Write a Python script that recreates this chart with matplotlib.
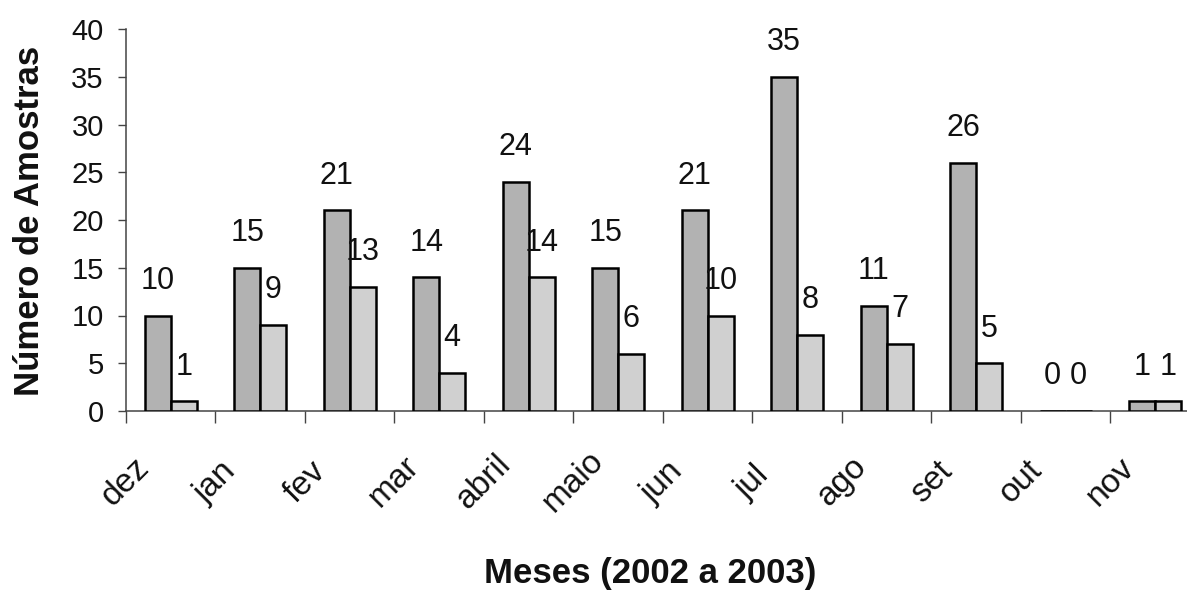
import matplotlib
matplotlib.use("Agg")
import matplotlib.pyplot as plt
import numpy as np

months = ["dez", "jan", "fev", "mar", "abril", "maio", "jun", "jul", "ago", "set", "out", "nov"]
series_a = [10, 15, 21, 14, 24, 15, 21, 35, 11, 26, 0, 1]
series_b = [1, 9, 13, 4, 14, 6, 10, 8, 7, 5, 0, 1]
y_ticks = [0, 5, 10, 15, 20, 25, 30, 35, 40]

plt.rcParams['font.family'] = ['Liberation Sans', 'DejaVu Sans']

W, H = 1187, 594
fig = plt.figure(figsize=(W / 100, H / 100), dpi=100)
ax = fig.add_axes([126 / W, (594 - 411) / H, 1074 / W, (411 - 29) / H])

x = np.arange(len(months))
bw = 0.29
ax.bar(x - bw / 2, series_a, width=bw, color="#b2b2b2", edgecolor="black", linewidth=1.8, zorder=3)
ax.bar(x + bw / 2, series_b, width=bw, color="#d0d0d0", edgecolor="black", linewidth=1.8, zorder=3)

for xi, v in zip(x - bw / 2, series_a):
    ax.annotate(str(v), xy=(xi, v), xytext=(0, 25), textcoords="offset points",
                ha="center", va="center", fontsize=22, color="#111111")
for xi, v in zip(x + bw / 2, series_b):
    ax.annotate(str(v), xy=(xi, v), xytext=(0, 25), textcoords="offset points",
                ha="center", va="center", fontsize=22, color="#111111")

ax.set_xlim(-0.5, 11.5)
ax.set_ylim(0, 40)
ax.set_yticks(y_ticks)
ax.set_yticklabels([str(t) for t in y_ticks], fontsize=21, color="#111111")
ax.tick_params(axis="y", direction="out", length=6, width=1, color="#444444", pad=10)

ax.set_xticks(np.arange(-0.5, 12.0, 1.0))
ax.set_xticklabels([])
ax.tick_params(axis="x", direction="out", length=8.5, width=1, color="#444444")

for i, m in enumerate(months):
    ax.annotate(m, xy=(i - 0.5, 0), xycoords=("data", "axes fraction"),
                xytext=(0, -51), textcoords="offset points",
                ha="center", va="center", rotation=45, fontsize=24, color="#111111",
                annotation_clip=False)

for s in ["top", "right"]:
    ax.spines[s].set_visible(False)
for s in ["left", "bottom"]:
    ax.spines[s].set_color("#444444")
    ax.spines[s].set_linewidth(1.1)

fig.text(650 / W, 1 - 574 / H, "Meses (2002 a 2003)", ha="center", va="center",
         fontsize=25, fontweight="bold", color="#111111")
fig.text(30 / W, 1 - 221 / H, "Número de Amostras", ha="center", va="center",
         rotation=90, fontsize=25, fontweight="bold", color="#111111")

fig.savefig("out.png", dpi=100, facecolor="white")
